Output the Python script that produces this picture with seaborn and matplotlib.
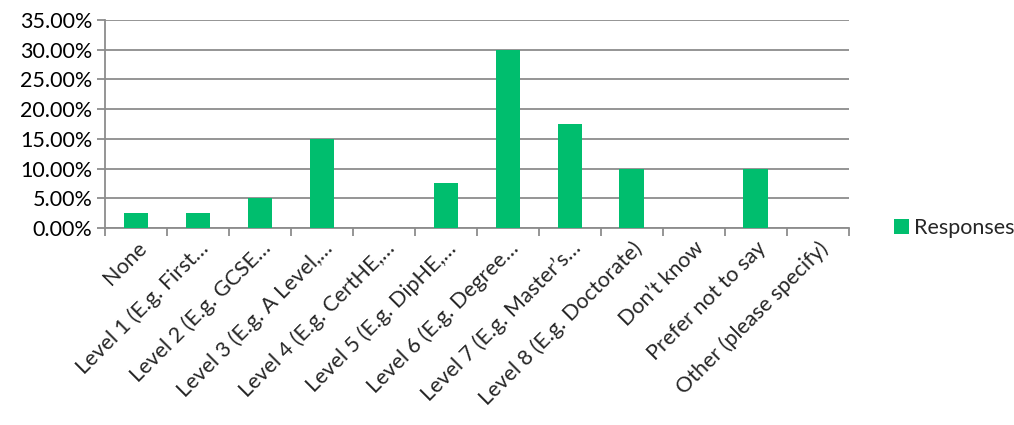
import matplotlib
matplotlib.use("Agg")
import matplotlib.pyplot as plt
import seaborn as sns
import pandas as pd
from matplotlib.ticker import FuncFormatter, MultipleLocator, FixedLocator

categories = ["None", "Level 1 (E.g. First\u2026", "Level 2 (E.g. GCSE\u2026",
              "Level 3 (E.g. A Level,\u2026", "Level 4 (E.g. CertHE,\u2026",
              "Level 5 (E.g. DipHE,\u2026", "Level 6 (E.g. Degree\u2026",
              "Level 7 (E.g. Master\u2019s\u2026", "Level 8 (E.g. Doctorate)",
              "Don\u2019t know", "Prefer not to say", "Other (please specify)"]
responses = [2.5, 2.5, 5.0, 15.0, 0.0, 7.5, 30.0, 17.5, 10.0, 0.0, 10.0, 0.0]

df = pd.DataFrame({"Category": categories, "Responses": responses})

sns.set_style("white")
plt.rcParams["font.family"] = ["Lato", "DejaVu Sans"]

fig = plt.figure(figsize=(10.14, 4.25), dpi=100)
ax = fig.add_axes([0.1036, 0.4635, 0.7335, 0.4895])

sns.barplot(data=df, x="Category", y="Responses", color="#00BE6E",
            width=0.4, saturation=1, linewidth=0, ax=ax, label="Responses", zorder=3)

grid_col = "#8c8c8c"
ax.set_ylim(0, 35)
ax.set_xlim(-0.5, len(categories) - 0.5)
ax.yaxis.set_major_locator(MultipleLocator(5))
ax.yaxis.set_major_formatter(FuncFormatter(lambda v, p: f"{v:.2f}%"))
ax.grid(axis="y", color=grid_col, linewidth=1.3, zorder=0)
ax.set_axisbelow(True)

for s in ["top", "right"]:
    ax.spines[s].set_visible(False)
for s in ["left", "bottom"]:
    ax.spines[s].set_color(grid_col)
    ax.spines[s].set_linewidth(1.3)

ax.tick_params(axis="y", length=6, width=1.3, color=grid_col, left=True,
               labelsize=15.5, pad=3, labelcolor="black")
ax.tick_params(axis="x", which="major", length=0, labelsize=15.5, pad=7)
ax.xaxis.set_minor_locator(FixedLocator([i - 0.5 for i in range(len(categories) + 1)]))
ax.tick_params(axis="x", which="minor", length=6, width=1.3, color=grid_col, bottom=True)
plt.setp(ax.get_xticklabels(), rotation=45, ha="right", rotation_mode="anchor")

ax.set_xlabel("")
ax.set_ylabel("")

leg = ax.legend(loc="center left", bbox_to_anchor=(1.04, 0.0), frameon=False,
                fontsize=15.5, handlelength=0.7, handleheight=0.7, handletextpad=0.25,
                borderaxespad=0.3)

fig.savefig("out.png", dpi=100)
